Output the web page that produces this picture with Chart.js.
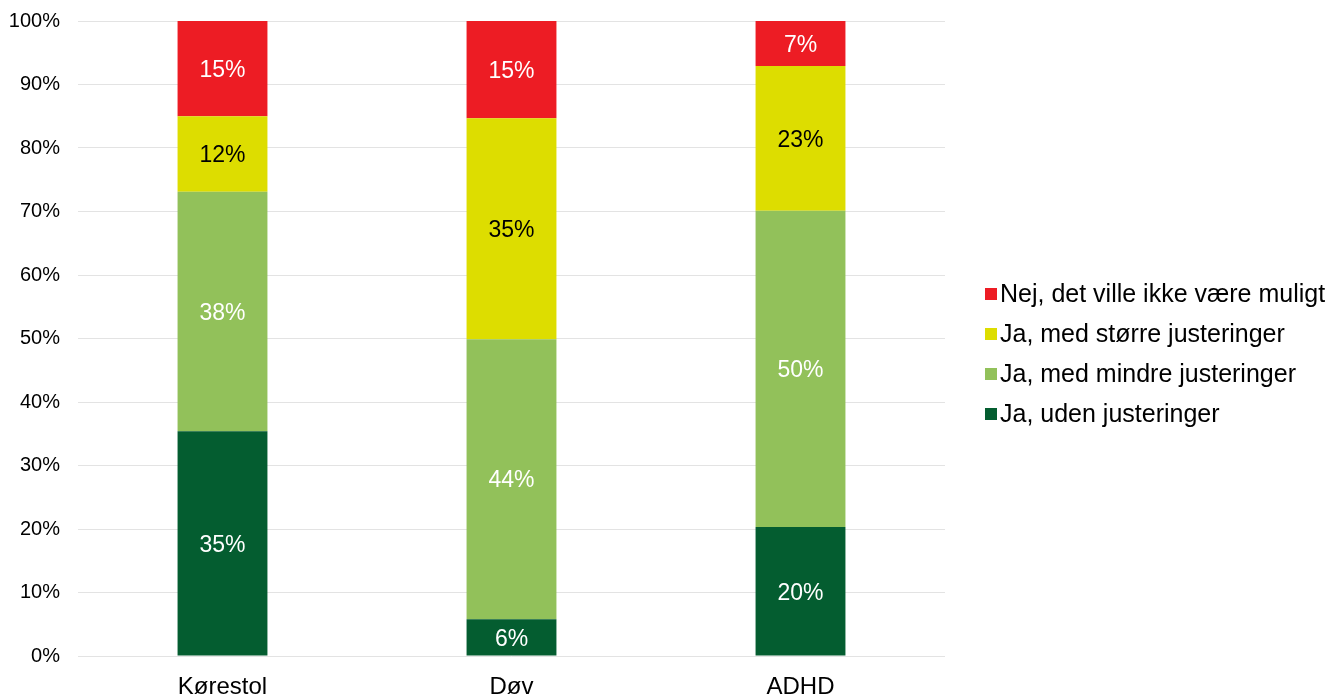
<!DOCTYPE html>
<html>
<head>
<meta charset="utf-8">
<script src="https://cdn.jsdelivr.net/npm/chart.js@4"></script>
<style>
html,body{margin:0;padding:0;background:#fff;}
#wrap{width:1333px;height:696px;position:relative;}
</style>
</head>
<body>
<div id="wrap"><canvas id="c" width="1333" height="696"></canvas></div>
<script>
const categories = ["Kørestol", "Døv", "ADHD"];
const seriesNames = ["Ja, uden justeringer", "Ja, med mindre justeringer", "Ja, med større justeringer", "Nej, det ville ikke være muligt"];
const udenJusteringer = [35.4, 5.8, 20.3];
const mindreJusteringer = [37.7, 44.1, 49.8];
const stoerreJusteringer = [11.9, 34.8, 22.8];
const ikkeMuligt = [15.0, 15.3, 7.1];
const shownLabels = [
  ["35%", "6%", "20%"],
  ["38%", "44%", "50%"],
  ["12%", "35%", "23%"],
  ["15%", "15%", "7%"]
];
const yTickLabels = ["0%", "10%", "20%", "30%", "40%", "50%", "60%", "70%", "80%", "90%", "100%"];

const colors = ["#045D30", "#92C15A", "#DDDD00", "#ED1C24"];
const labelColors = ["#ffffff", "#ffffff", "#000000", "#ffffff"];
const seriesValues = [udenJusteringer, mindreJusteringer, stoerreJusteringer, ikkeMuligt];
const FONT = '"Liberation Sans", Arial, sans-serif';

const dataLabelPlugin = {
  id: 'dataLabels',
  afterDatasetsDraw(chart) {
    const ctx = chart.ctx;
    ctx.save();
    ctx.font = '23px ' + FONT;
    ctx.textAlign = 'center';
    ctx.textBaseline = 'middle';
    chart.data.datasets.forEach((ds, di) => {
      const meta = chart.getDatasetMeta(di);
      meta.data.forEach((bar, i) => {
        const p = bar.getProps(['x', 'y', 'base'], true);
        ctx.fillStyle = labelColors[di];
        ctx.fillText(shownLabels[di][i], p.x, (p.y + p.base) / 2 + 2);
      });
    });
    ctx.restore();
  }
};

const sideLegendPlugin = {
  id: 'sideLegend',
  afterDraw(chart) {
    const ctx = chart.ctx;
    const area = chart.chartArea;
    const boxX = area.right + 40;
    const rowGap = 40;
    const n = chart.data.datasets.length;
    const centerY = 354;
    const firstY = centerY - rowGap * (n - 1) / 2;
    ctx.save();
    ctx.font = '25px ' + FONT;
    ctx.textAlign = 'left';
    ctx.textBaseline = 'middle';
    for (let k = 0; k < n; k++) {
      const di = n - 1 - k;
      const ds = chart.data.datasets[di];
      const y = firstY + k * rowGap;
      ctx.fillStyle = ds.backgroundColor;
      ctx.fillRect(boxX, y - 6, 12, 12);
      ctx.fillStyle = '#000';
      ctx.fillText(ds.label, boxX + 15, y + 1);
    }
    ctx.restore();
  }
};

new Chart(document.getElementById('c'), {
  type: 'bar',
  data: {
    labels: categories,
    datasets: seriesValues.map((vals, i) => ({
      label: seriesNames[i],
      data: vals,
      backgroundColor: colors[i],
      borderWidth: 0,
      categoryPercentage: 1.0,
      barPercentage: 0.311
    }))
  },
  options: {
    responsive: false,
    animation: false,
    devicePixelRatio: 1,
    layout: { padding: { left: 0, top: 21, right: 388, bottom: 0 } },
    plugins: {
      tooltip: { enabled: false },
      legend: { display: false }
    },
    scales: {
      x: {
        stacked: true,
        grid: { display: false, drawTicks: false },
        border: { display: false },
        ticks: {
          color: '#000',
          padding: 17,
          font: { family: FONT, size: 24 }
        },
        afterFit(scale) { scale.height = 40; scale.paddingLeft = 0; scale.paddingRight = 0; }
      },
      y: {
        stacked: true,
        min: 0,
        max: 100,
        grid: { color: '#e3e3e3', lineWidth: 1, drawTicks: false },
        border: { display: false },
        ticks: {
          stepSize: 10,
          color: '#000',
          padding: 18,
          font: { family: FONT, size: 20 },
          callback: (v, idx) => yTickLabels[idx]
        },
        afterFit(scale) { scale.width = 78; scale.paddingTop = 0; scale.paddingBottom = 0; }
      }
    }
  },
  plugins: [dataLabelPlugin, sideLegendPlugin]
});
</script>
</body>
</html>
